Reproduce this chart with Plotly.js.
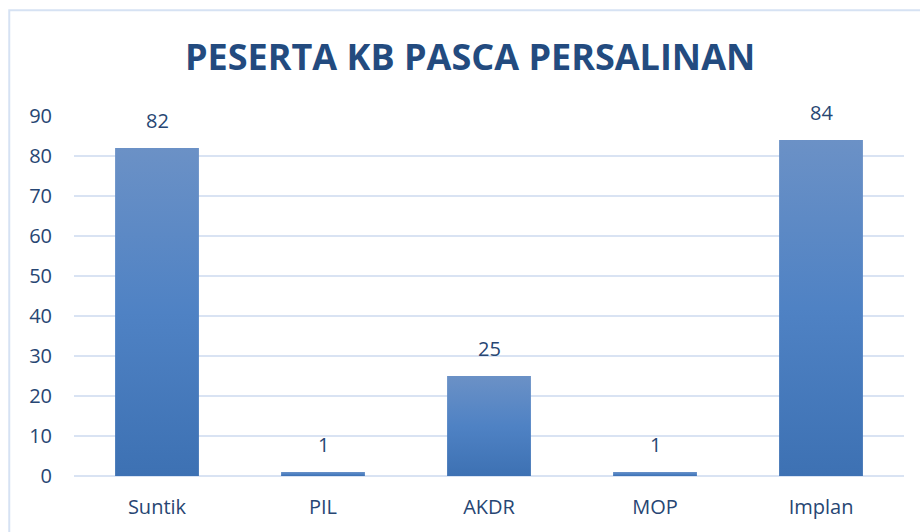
<!DOCTYPE html>
<html>
<head>
<meta charset="utf-8">
<script src="https://cdn.plot.ly/plotly-3.0.1.min.js"></script>
<style>
body { margin: 0; background: #fff; }
#Grafico { width: 920px; height: 532px; }
</style>
</head>
<body>
<div id="Grafico"></div>
<script>
let kategori = ['Suntik', 'PIL', 'AKDR', 'MOP', 'Implan'];
let peserta = [82, 1, 25, 1, 84];

let batang = {
	x: kategori,
	y: peserta,
	type: 'bar',
	marker: { color: '#5585c2' },
	width: 0.505,
	hoverinfo: 'none'
}

let labelBatang = kategori.map(function (k, i) {
	return {
		x: k, y: peserta[i],
		text: String(peserta[i]),
		showarrow: false,
		yanchor: 'bottom',
		yshift: 12,
		font: { family: 'Open Sans', size: 20, color: '#274673' }
	};
});

let layout = {
	width: 920,
	height: 532,
	margin: { l: 74, r: 16, t: 116, b: 56 },
	paper_bgcolor: '#ffffff',
	plot_bgcolor: '#ffffff',
	title: {
		text: '<b>PESERTA KB PASCA PERSALINAN</b>',
		font: { family: 'Open Sans', size: 36, color: '#234b7f' },
		x: 0.511,
		xanchor: 'center',
		y: 0.893,
		yanchor: 'middle'
	},
	xaxis: {
		tickfont: { family: 'Open Sans', size: 20, color: '#274673' },
		showgrid: false,
		zeroline: false,
		showline: false,
		ticks: '',
		ticklabelstandoff: 17
	},
	yaxis: {
		range: [0, 90],
		dtick: 10,
		tickfont: { family: 'Open Sans', size: 20, color: '#274673' },
		gridcolor: '#d9e3f3',
		gridwidth: 2,
		zeroline: true,
		zerolinecolor: '#d9e3f3',
		zerolinewidth: 2,
		showline: false,
		ticks: '',
		ticklabelstandoff: 21
	},
	annotations: labelBatang,
	shapes: [{
		type: 'rect',
		xref: 'paper', yref: 'paper',
		x0: -0.078, x1: 1.2, y0: -0.3, y1: 1.294,
		line: { color: '#d6e2f3', width: 2 },
		fillcolor: 'rgba(0,0,0,0)',
		layer: 'below'
	}],
	showlegend: false
}

let contenedor = document.getElementById('Grafico');
Plotly.newPlot(contenedor, [batang], layout, { displayModeBar: false, staticPlot: true }).then(function () {
	// gradien vertikal seperti gaya Excel
	let svg = contenedor.querySelector('svg.main-svg');
	let ns = 'http://www.w3.org/2000/svg';
	let defs = svg.querySelector('defs') || svg.insertBefore(document.createElementNS(ns, 'defs'), svg.firstChild);
	let grad = document.createElementNS(ns, 'linearGradient');
	grad.setAttribute('id', 'gradBatang');
	grad.setAttribute('x1', '0'); grad.setAttribute('y1', '0');
	grad.setAttribute('x2', '0'); grad.setAttribute('y2', '1');
	[['0%', '#6b91c6'], ['50%', '#4f82c4'], ['100%', '#3d71b3']].forEach(function (s) {
		let st = document.createElementNS(ns, 'stop');
		st.setAttribute('offset', s[0]);
		st.setAttribute('stop-color', s[1]);
		grad.appendChild(st);
	});
	defs.appendChild(grad);
	contenedor.querySelectorAll('.trace.bars .point path').forEach(function (p) {
		p.style.fill = 'url(#gradBatang)';
	});
});
</script>
</body>
</html>
